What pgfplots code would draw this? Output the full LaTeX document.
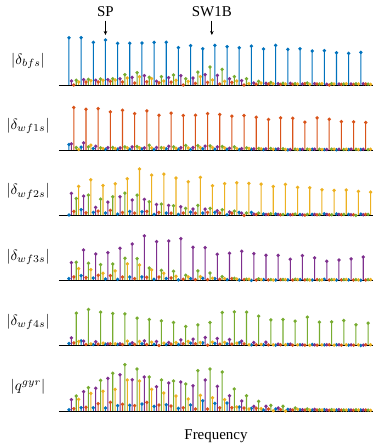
\documentclass[border=0pt]{standalone}
\usepackage{fontspec}
\setmainfont{Liberation Serif}
\usepackage{pgfplots}
\usepackage{pgfplotstable}
\pgfplotsset{compat=1.18}
\usetikzlibrary{arrows.meta}
\definecolor{mblue}{RGB}{0,114,189}
\definecolor{mred}{RGB}{217,83,25}
\definecolor{myel}{RGB}{237,177,32}
\definecolor{mpur}{RGB}{126,47,142}
\definecolor{mgrn}{RGB}{119,172,48}
\pgfdeclareplotmark{fdot}{\pgfpathcircle{\pgfpointorigin}{\pgfplotmarksize}\pgfusepathqfill}

\pgfplotstableread{
k b p r g y
0 142 12 0 14 9
1 142 16 9 17 13
2 128 14 9 18 14
3 135 16 11 19 15
4 125 19 9 31 21
5 125 23 6 37 25
6 126 28 10 23 19
7 128 11 7 25 12
8 128 22 9 30 14
9 112 28 0 19 11
10 118 21 5 39 25
11 109 31 8 54 15
12 119 29 3 47 11
13 115 19 8 25 12
14 112 13 0 19 4
15 117 6 2 11 6
16 108 5 3 8 4
17 119 4 2 5 3
18 107 5 2 4 3
19 109 3 4 6 2
20 102 4 3 3 4
21 103 2 0 4 3
22 97 3 2 3 4
23 95 3 2 4 3
24 98 4 3 3 2
}\tabA

\pgfplotstableread{
k b p r g y
0 17 19 128 8 2
1 9 22 123 10 15
2 5 12 125 7 5
3 3 8 115 8 5
4 3 7 120 10 7
5 3 10 110 11 7
6 4 7 118 15 7
7 2 8 105 8 7
8 4 12 111 10 6
9 3 8 104 14 7
10 2 8 105 14 8
11 4 12 110 13 8
12 3 10 107 11 7
13 3 6 102 10 5
14 2 5 104 7 5
15 3 4 99 5 4
16 2 4 92 5 3
17 3 4 97 4 2
18 1 2 96 3 2
19 2 3 84 3 2
20 3 3 97 3 2
21 2 2 93 3 3
22 1 3 86 2 3
23 2 3 85 3 2
24 2 3 83 2 3
}\tabB

\pgfplotstableread{
k b p r g y
0 1 66 12 51 87
1 17 58 8 61 107
2 9 24 13 49 90
3 7 40 15 56 95
4 4 56 9 67 110
5 12 46 7 61 139
6 11 48 12 41 121
7 3 33 9 34 124
8 7 30 7 29 112
9 3 26 7 21 101
10 10 19 7 30 114
11 7 19 9 21 89
12 9 14 7 17 95
13 2 10 7 13 98
14 9 7 0 7 96
15 9 4 3 7 94
16 4 3 3 5 87
17 4 3 2 3 93
18 3 2 3 4 84
19 3 2 1 3 83
20 3 3 2 3 77
21 5 3 2 2 75
22 4 3 2 3 76
23 3 2 2 0 72
24 4 2 3 3 70
}\tabC

\pgfplotstableread{
k b p r g y
0 6 54 11 55 36
1 15 92 9 52 33
2 8 80 16 48 22
3 5 84 15 50 29
4 4 97 11 67 50
5 11 110 6 66 47
6 11 134 10 38 32
7 4 117 11 31 22
8 6 119 8 28 13
9 2 126 4 16 11
10 6 100 3 29 12
11 7 99 3 23 7
12 6 79 4 12 6
13 3 82 6 7 5
14 2 88 3 4 4
15 1 81 2 5 3
16 3 76 2 3 2
17 2 76 3 3 3
18 2 64 2 4 3
19 3 75 2 3 2
20 2 68 3 2 2
21 4 58 2 3 3
22 2 62 2 3 3
23 2 65 2 3 2
24 1 71 2 3 3
}\tabD

\pgfplotstableread{
k b p r g y
0 7 24 9 98 13
1 15 14 4 109 6
2 4 12 5 101 8
3 5 6 6 97 6
4 4 6 4 96 14
5 5 9 4 83 13
6 6 15 4 79 11
7 4 13 1 75 8
8 4 10 5 70 10
9 4 18 6 58 13
10 8 20 6 63 10
11 9 25 2 70 11
12 7 22 5 100 10
13 6 19 5 102 8
14 9 14 6 101 3
15 3 10 3 89 4
16 3 11 3 78 3
17 2 5 3 79 3
18 4 5 2 74 3
19 3 3 2 86 2
20 4 3 2 71 3
21 3 3 3 72 2
22 3 3 2 76 3
23 2 3 2 63 3
24 1 2 3 68 3
}\tabE

\pgfplotstableread{
k b p r g y
0 4 34 7 45 35
1 10 58 11 70 53
2 10 68 22 92 59
3 9 98 26 113 65
4 16 109 20 139 93
5 17 94 16 126 90
6 21 102 26 102 65
7 14 73 18 93 54
8 19 84 15 90 45
9 8 87 10 81 36
10 18 76 6 121 47
11 31 93 6 126 40
12 23 74 10 117 34
13 24 46 10 66 12
14 12 30 9 46 6
15 8 14 8 29 7
16 3 14 6 17 1
17 6 9 4 14 0
18 5 4 3 9 5
19 4 4 3 6 3
20 3 5 3 4 3
21 4 3 2 4 3
22 3 4 3 3 3
23 3 3 2 4 3
24 3 3 3 3 2
}\tabF

\pgfplotsset{
  stemax/.style={width=209.33bp, height=33.33bp, scale only axis,
    xmin=-0.82, xmax=25, ymin=0, ymax=150,
    axis x line=bottom, axis y line=none,
    xtick=\empty, ytick=\empty, clip=false,
    axis line style={black, line width=0.65bp, -},
    axis on top,
    anchor=south west},
  stem/.style={ybar, bar width=0.7bp, bar shift=0pt, fill=#1, draw=none,
    mark=fdot, mark size=1.25bp, mark options={solid, fill=#1}},
}
\newcommand\stems[1]{%
  \addplot[stem=mblue] table[x=k, y=b]{#1};
  \addplot[stem=mpur] table[x expr=\thisrow{k}+0.2, y=p]{#1};
  \addplot[stem=mred] table[x expr=\thisrow{k}+0.4, y=r]{#1};
  \addplot[stem=mgrn] table[x expr=\thisrow{k}+0.6, y=g]{#1};
  \addplot[stem=myel] table[x expr=\thisrow{k}+0.8, y=y]{#1};
}
\newcommand\ylab[1]{\node at (rel axis cs:-0.0987,0.48) {#1};}

\begin{document}
\begin{tikzpicture}
\path[use as bounding box] (0,0) rectangle (252.67bp,-296bp);
\begin{axis}[stemax, at={(39.33bp,-56.67bp)}]
  \stems{\tabA}
  \ylab{$|\delta_{bfs}|$}
  \draw[-{Stealth[length=2.7bp,width=2.4bp]}, line width=0.55bp] (axis cs:3,193) -- (axis cs:3,150);
  \node[anchor=base] at (axis cs:3,205) {SP};
  \draw[-{Stealth[length=2.7bp,width=2.4bp]}, line width=0.55bp] (axis cs:11.75,193) -- (axis cs:11.75,150);
  \node[anchor=base] at (axis cs:11.75,205) {SW1B};
\end{axis}
\begin{axis}[stemax, at={(39.33bp,-100.13bp)}]
  \stems{\tabB}
  \ylab{$|\delta_{wf1s}|$}
\end{axis}
\begin{axis}[stemax, at={(39.33bp,-143.6bp)}]
  \stems{\tabC}
  \ylab{$|\delta_{wf2s}|$}
\end{axis}
\begin{axis}[stemax, at={(39.33bp,-187.07bp)}]
  \stems{\tabD}
  \ylab{$|\delta_{wf3s}|$}
\end{axis}
\begin{axis}[stemax, at={(39.33bp,-230.53bp)}]
  \stems{\tabE}
  \ylab{$|\delta_{wf4s}|$}
\end{axis}
\begin{axis}[stemax, at={(39.33bp,-274bp)}]
  \stems{\tabF}
  \ylab{$|q^{gyr}|$}
  \node[anchor=base] at (rel axis cs:0.5,0) [yshift=-19.33bp] {Frequency};
\end{axis}
\end{tikzpicture}
\end{document}
